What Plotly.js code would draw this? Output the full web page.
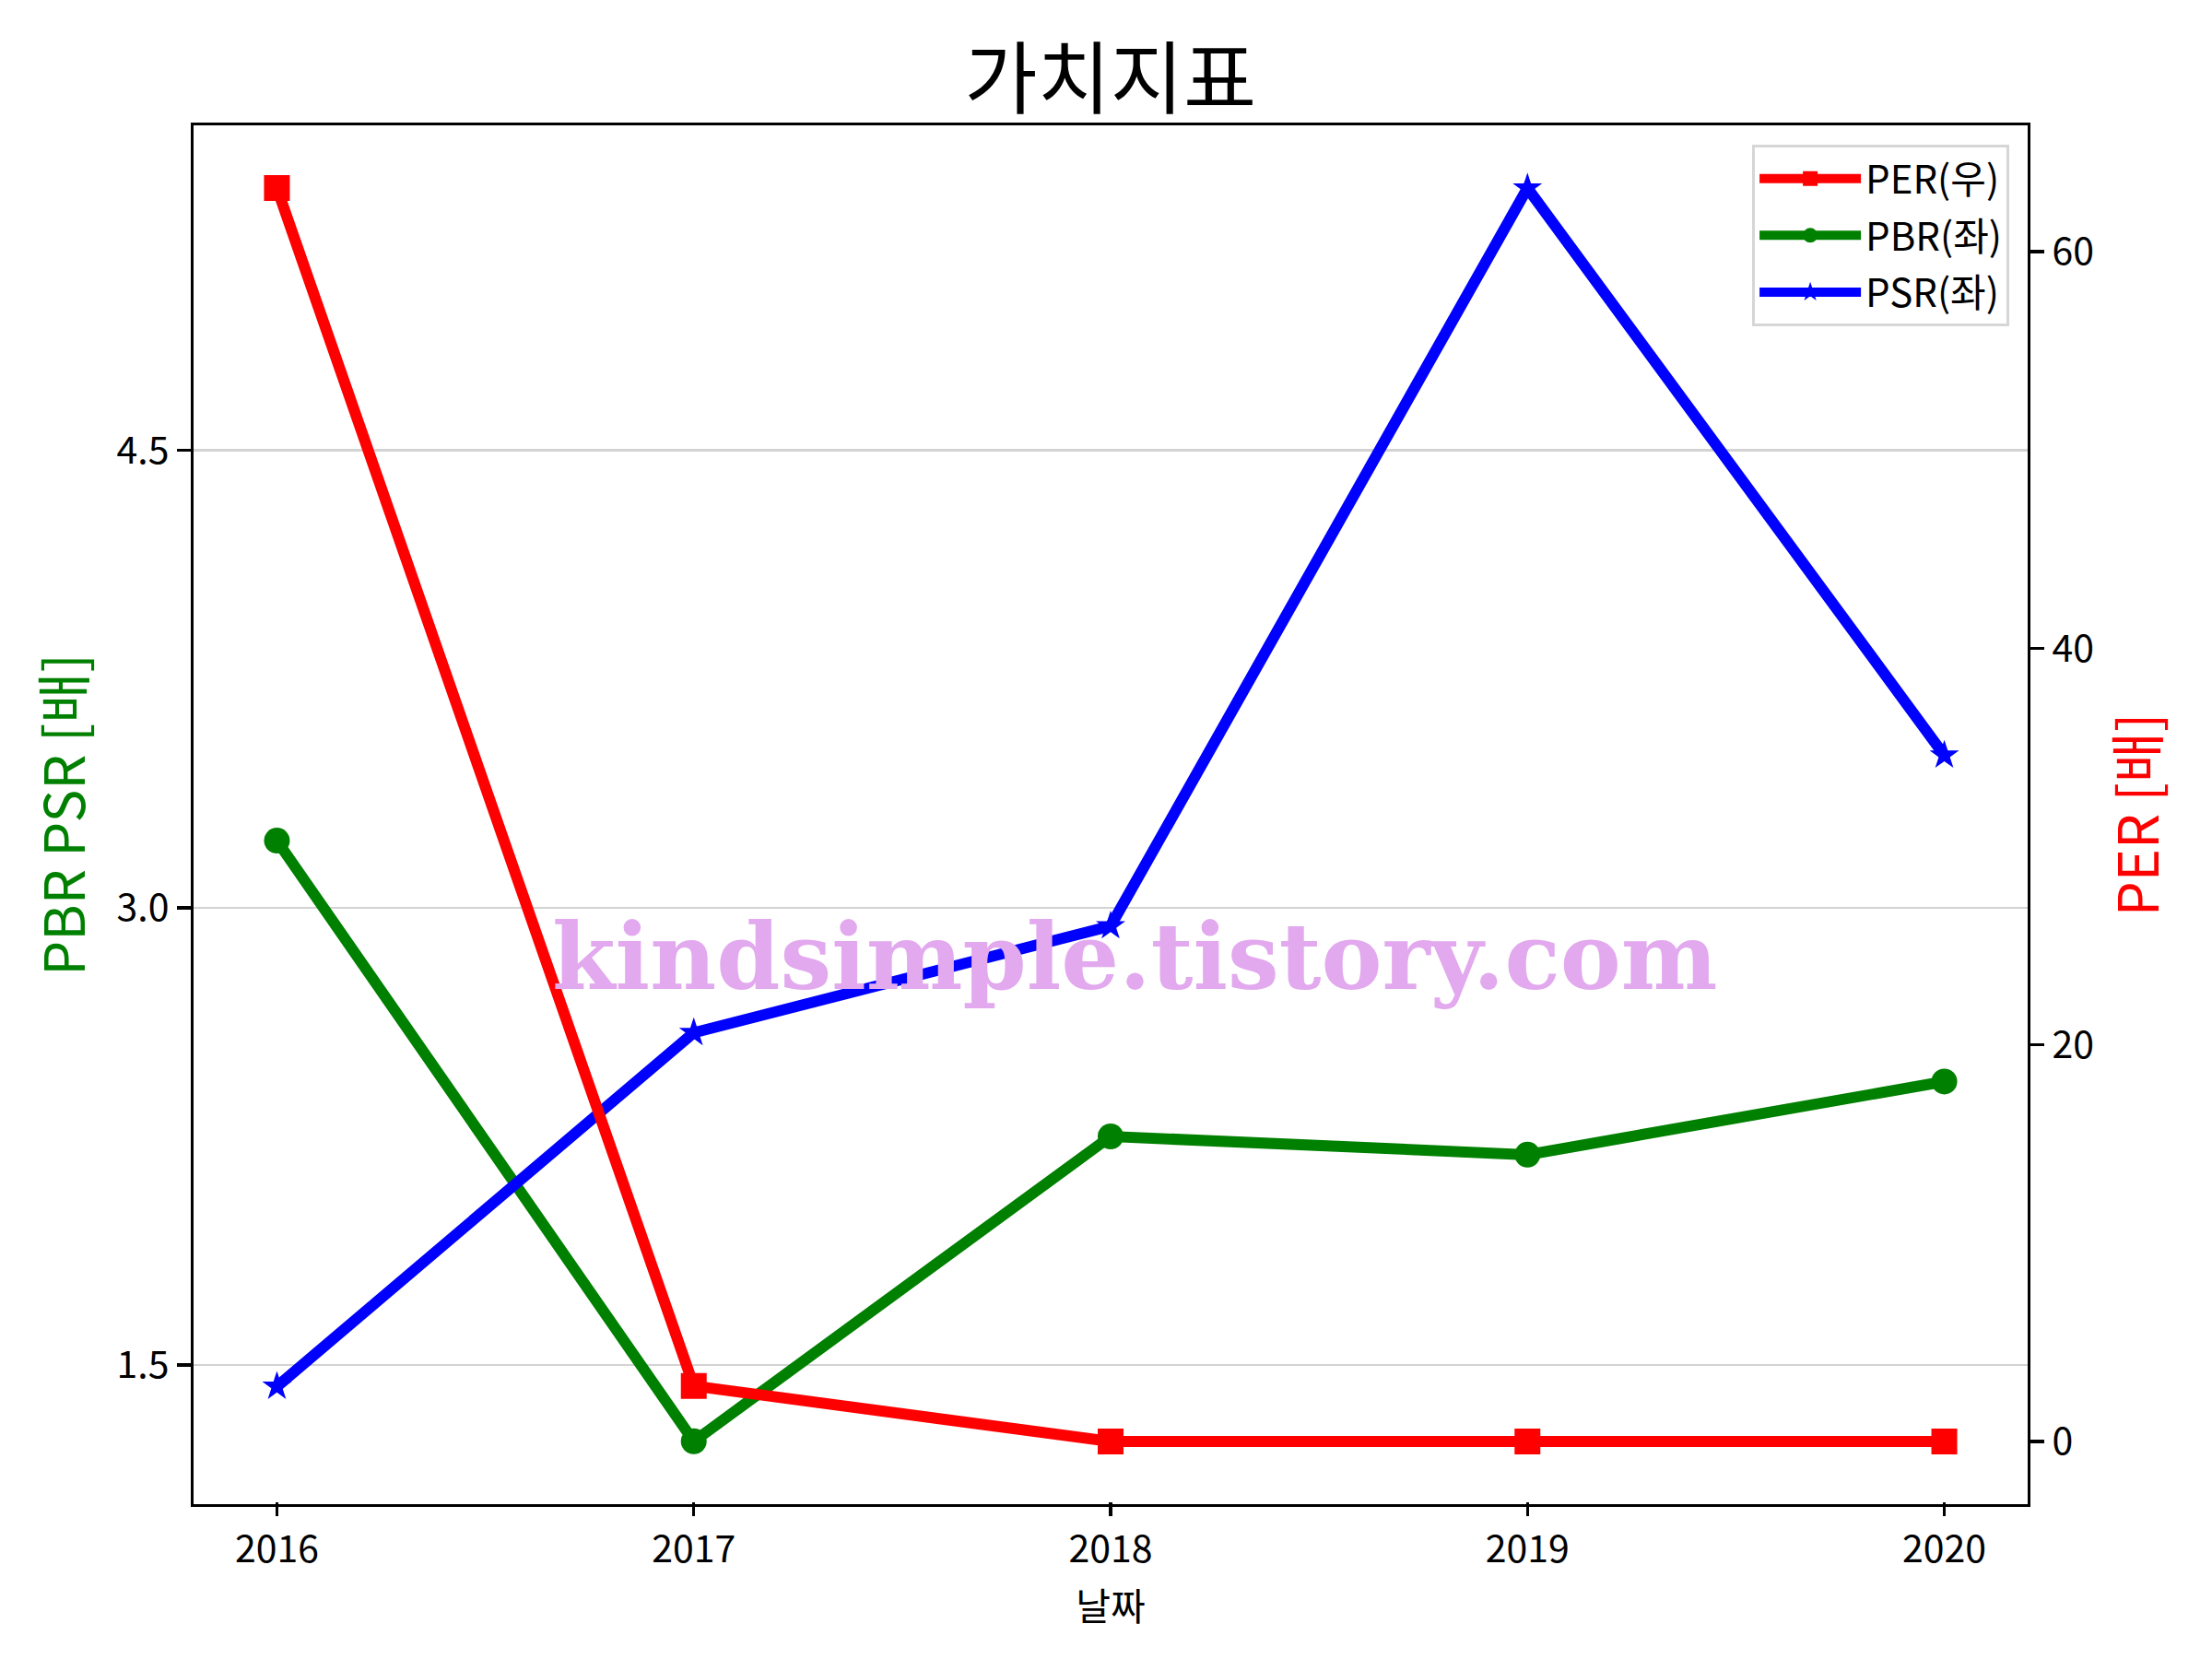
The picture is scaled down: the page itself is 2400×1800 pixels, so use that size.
<!DOCTYPE html>
<html>
<head>
<meta charset="utf-8">
<script src="https://cdn.plot.ly/plotly-3.0.1.min.js"></script>
<style>html,body{margin:0;padding:0;background:#fff;}#chart{width:2400px;height:1800px;}</style>
</head>
<body>
<div id="chart"></div>
<script>
const years = [2016, 2017, 2018, 2019, 2020];
const per = [63.2, 2.8, 0, 0, 0];
const pbr = [3.22, 1.25, 2.25, 2.19, 2.43];
const psr = [1.43, 2.59, 2.94, 5.36, 3.50];
const leftTicks = [1.5, 3.0, 4.5];
const rightTicks = [0, 20, 40, 60];

const FONT = '"Noto Sans CJK KR", "Noto Sans", sans-serif';

const data = [
  {x: years, y: per, name: 'PER(우)', legendgroup: 'a', yaxis: 'y2', type: 'scatter', mode: 'lines+markers',
   line: {color: '#ff0000', width: 12}, marker: {symbol: 'square', size: 28, color: '#ff0000'}},
  {x: years, y: pbr, name: 'PBR(좌)', legendgroup: 'b', yaxis: 'y', type: 'scatter', mode: 'lines+markers',
   line: {color: '#008000', width: 12}, marker: {symbol: 'circle', size: 28, color: '#008000'}},
  {x: years, y: psr, name: 'PSR(좌)', legendgroup: 'c', yaxis: 'y', type: 'scatter', mode: 'lines+markers',
   line: {color: '#0000ff', width: 12}, marker: {symbol: 'star', size: 24, color: '#0000ff'}}
];

const layout = {
  width: 2400, height: 1800,
  paper_bgcolor: '#ffffff', plot_bgcolor: '#ffffff',
  font: {family: FONT, size: 41, color: '#000'},
  margin: {l: 210, r: 200, t: 136, b: 168, pad: 0},
  showlegend: true,
  hovermode: false,
  title: {text: '가치지표', font: {family: FONT, size: 86, color: '#000'},
          x: 0.502, xref: 'container', xanchor: 'center', y: 0.952, yref: 'container', yanchor: 'middle'},
  xaxis: {
    range: [2015.8, 2020.2], tickvals: years, ticktext: years.map(String),
    showgrid: false, zeroline: false,
    showline: true, linecolor: '#000', linewidth: 3.3, mirror: true,
    ticks: 'outside', ticklen: 15, tickwidth: 3.3, tickcolor: '#000',
    tickfont: {family: FONT, size: 41, color: '#000'},
    automargin: false,
    title: {text: '날짜', font: {family: FONT, size: 41, color: '#000'}}
  },
  yaxis: {
    range: [1.044, 5.566], tickvals: leftTicks, ticktext: leftTicks.map(v => v.toFixed(1)),
    showgrid: true, gridcolor: '#d3d3d3', gridwidth: 2.5, zeroline: false,
    showline: true, linecolor: '#000', linewidth: 3.3,
    ticks: 'outside', ticklen: 15, tickwidth: 3.3, tickcolor: '#000',
    tickfont: {family: FONT, size: 41, color: '#000'},
    automargin: false,
    title: {text: 'PBR PSR [배]', font: {family: FONT, size: 60, color: '#008000'}}
  },
  yaxis2: {
    overlaying: 'y', side: 'right',
    range: [-3.16, 66.36], tickvals: rightTicks, ticktext: rightTicks.map(String),
    showgrid: false, zeroline: false,
    showline: true, linecolor: '#000', linewidth: 3.3,
    ticks: 'outside', ticklen: 15, tickwidth: 3.3, tickcolor: '#000',
    tickfont: {family: FONT, size: 41, color: '#000'},
    automargin: false,
    title: {text: 'PER [배]', font: {family: FONT, size: 60, color: '#ff0000'}}
  },
  legend: {
    x: 0.99, xanchor: 'right', y: 0.986, yanchor: 'top',
    bgcolor: '#ffffff', bordercolor: '#d6d6d6', borderwidth: 3,
    font: {family: FONT, size: 42, color: '#000'},
    itemwidth: 110, tracegroupgap: 4, traceorder: 'grouped'
  },
  annotations: [{
    text: 'kindsimple.tistory.com', xref: 'paper', yref: 'paper', x: 0.513, y: 0.397,
    xanchor: 'center', yanchor: 'middle', showarrow: false,
    font: {family: '"DejaVu Serif", serif', size: 99, color: '#e2a9ee', weight: 'bold'}
  }]
};

Plotly.newPlot('chart', data, layout, {staticPlot: true, displayModeBar: false}).then(function () {
  // nudge axis titles / labels toward the reference positions
  const shiftEl = (el, dx, dy) => {
    const t = el.getAttribute('transform') || '';
    el.setAttribute('transform', 'translate(' + dx + ',' + dy + ') ' + t);
  };
  const shift = (sel, dx, dy) => document.querySelectorAll(sel).forEach(el => shiftEl(el, dx, dy));
  shift('.g-ytitle', 14, 0);
  shift('.g-y2title', -20, 0);
  shift('.g-xtitle', 0, -9);
  shift('.xaxislayer-above .xtick', 0, -5);
});
</script>
</body>
</html>
